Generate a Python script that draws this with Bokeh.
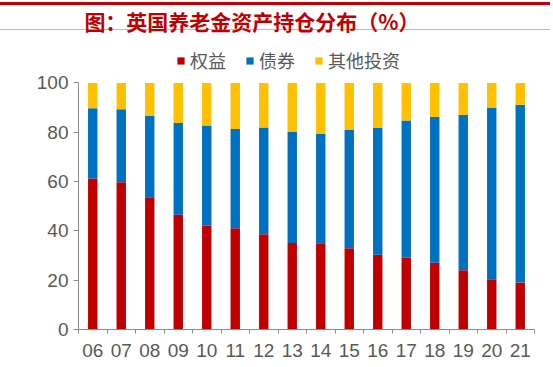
from bokeh.plotting import figure
from bokeh.models import (Range1d, LinearAxis, FixedTicker, Legend, LegendItem, Div)
from bokeh.layouts import column
from bokeh.embed import file_html
from bokeh.resources import INLINE

title_text = "图：英国养老金资产持仓分布（%）"
years = ["06", "07", "08", "09", "10", "11", "12", "13", "14", "15", "16", "17", "18", "19", "20", "21"]
equity = [61.3, 59.7, 53.6, 46.5, 42.1, 41.1, 38.6, 35.1, 35.0, 33.0, 30.3, 29.1, 27.1, 24.0, 20.4, 19.1]
bonds = [28.4, 29.6, 33.0, 37.3, 40.6, 40.2, 43.3, 45.0, 44.3, 47.9, 51.4, 55.7, 59.1, 63.0, 69.4, 72.1]
other = [10.3, 10.7, 13.4, 16.2, 17.3, 18.7, 18.1, 19.9, 20.7, 19.1, 18.3, 15.2, 13.8, 13.0, 10.2, 8.8]
series_names = ["权益", "债券", "其他投资"]
colors = ["#C00000", "#0070C0", "#FFC000"]
y_ticks = [0, 20, 40, 60, 80, 100]

W = 553
TITLE_H = 35
H = 367 - TITLE_H
CJK = "Noto Sans CJK SC"
NUM = "Liberation Sans"
GRAY_TXT = "#595959"
AXIS_COL = "#8C8C8C"

title_html = (
    '<div style="width:550px;height:3px;margin:2px 0 0 0;background:#C00000;"></div>'
    '<div style="width:527px;height:24px;padding:4px 23px 0 0;line-height:24px;text-align:center;'
    f'white-space:nowrap;">{title_text}</div>'
    '<div style="width:550px;height:1px;margin:0;background:#E8A8A8;"></div>'
)
title = Div(text=title_html, width=W, height=TITLE_H, styles={
    "font-family": CJK,
    "font-weight": "bold",
    "font-size": "21px",
    "color": "#C00000",
    "margin": "0",
})

x = list(range(len(years)))
p = figure(width=W, height=H, output_backend="svg", toolbar_location=None,
           x_range=Range1d(-0.5, len(years) - 0.5), y_range=Range1d(0, 115.2),
           x_axis_type=None, min_border_left=78, min_border_right=19,
           min_border_top=10, min_border_bottom=38)
p.outline_line_color = None
p.grid.visible = False

src = dict(x=x, equity=equity, bonds=bonds, other=other)
rs = p.vbar_stack(["equity", "bonds", "other"], x="x", width=0.33, color=colors,
                  line_color=None, source=src)

# y axis (only 0..100)
ya = p.yaxis[0]
ya.ticker = FixedTicker(ticks=y_ticks)
ya.bounds = (0, 100)
ya.minor_tick_line_color = None
ya.major_tick_in = 0
ya.major_tick_out = 5
ya.axis_line_color = AXIS_COL
ya.major_tick_line_color = AXIS_COL
ya.major_label_text_font = NUM
ya.major_label_text_font_size = "19px"
ya.major_label_text_color = GRAY_TXT
ya.major_label_standoff = 5

# x axis: ticks at category boundaries
xa1 = LinearAxis(ticker=FixedTicker(ticks=[i - 0.5 for i in range(len(years) + 1)]))
xa1.major_label_overrides = {i - 0.5: "" for i in range(len(years) + 1)}
xa1.major_label_text_font_size = "1px"
xa1.major_label_standoff = 0
xa1.major_tick_in = 0
xa1.major_tick_out = 4
xa1.minor_tick_line_color = None
xa1.axis_line_color = AXIS_COL
xa1.major_tick_line_color = AXIS_COL
p.add_layout(xa1, "below")

# x axis labels at category centres
xa2 = LinearAxis(ticker=FixedTicker(ticks=x))
xa2.major_label_overrides = {i: years[i] for i in x}
xa2.axis_line_color = None
xa2.major_tick_line_color = None
xa2.minor_tick_line_color = None
xa2.major_tick_in = 0
xa2.major_tick_out = 0
xa2.major_label_standoff = 10
xa2.major_label_text_font = NUM
xa2.major_label_text_font_size = "19px"
xa2.major_label_text_color = GRAY_TXT
p.add_layout(xa2, "below")

legend = Legend(items=[LegendItem(label=n, renderers=[r]) for n, r in zip(series_names, rs)],
                orientation="horizontal", location=(98, 256))
legend.label_text_font = CJK
legend.label_text_font_size = "18px"
legend.label_text_color = GRAY_TXT
legend.glyph_width = 9
legend.glyph_height = 9
legend.label_standoff = 5
legend.spacing = 19
legend.padding = 0
legend.margin = 0
legend.border_line_color = None
legend.background_fill_alpha = 0
p.add_layout(legend)

layout = column(title, p, spacing=0)
open("out.html", "w").write(file_html(layout, INLINE))
